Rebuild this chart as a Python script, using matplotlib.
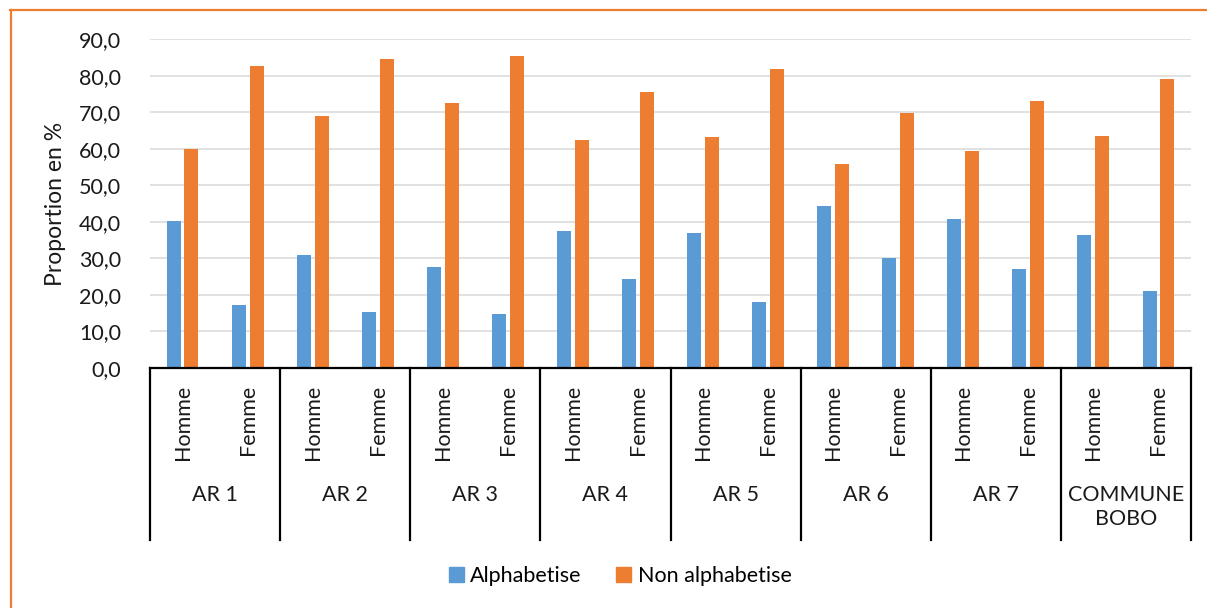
import matplotlib
matplotlib.use("Agg")
import matplotlib.pyplot as plt
from matplotlib.lines import Line2D
from matplotlib.patches import Patch
from matplotlib.transforms import blended_transform_factory
import numpy as np

groups = ["AR 1", "AR 2", "AR 3", "AR 4", "AR 5", "AR 6", "AR 7", "COMMUNE\nBOBO"]
sexes = ["Homme", "Femme"]
alphabetise = [40.2, 17.3, 30.9, 15.3, 27.5, 14.6, 37.5, 24.4,
               36.9, 18.1, 44.3, 30.1, 40.7, 27.0, 36.4, 21.0]
non_alphabetise = [59.8, 82.7, 69.1, 84.7, 72.5, 85.4, 62.5, 75.6,
                   63.1, 81.9, 55.7, 69.9, 59.3, 73.0, 63.6, 79.0]
yticks = [0, 10, 20, 30, 40, 50, 60, 70, 80, 90]

BLUE = "#5B9BD5"
ORANGE = "#ED7D31"
TXT = "#1a1a1a"
FS = 15.5

plt.rcParams['font.family'] = ['Lato', 'DejaVu Sans']

W, H = 1207, 608
fig = plt.figure(figsize=(W / 100, H / 100), dpi=100)
ax = fig.add_axes([150 / W, 1 - 367.7 / H, 1041 / W, 328.4 / H])

x = np.arange(len(alphabetise))
bw = 0.215
ax.bar(x - 0.137, alphabetise, width=bw, color=BLUE, zorder=3)
ax.bar(x + 0.137, non_alphabetise, width=bw, color=ORANGE, zorder=3)

ax.set_xlim(-0.5, len(x) - 0.5)
ax.set_ylim(0, 90)
ax.set_yticks(yticks)
ax.yaxis.set_major_formatter(plt.FuncFormatter(lambda v, p: ("%.1f" % v).replace(".", ",")))
ax.tick_params(axis='y', length=0, pad=21, labelsize=FS, labelcolor=TXT)
ax.set_xticks([])
ax.grid(axis='y', color="#d9d9d9", linewidth=1.1, zorder=0)
for s in ["top", "right", "left"]:
    ax.spines[s].set_visible(False)
ax.spines["bottom"].set_linewidth(1.6)
ax.spines["bottom"].set_color("black")
ax.spines["bottom"].set_zorder(4)
ax.set_ylabel("Proportion en %", fontsize=16.5, color=TXT, labelpad=9)

# multi-level category axis
tr = blended_transform_factory(ax.transData, fig.transFigure)
for i in range(len(x)):
    ax.text(x[i], 1 - 385 / H, sexes[i % 2], transform=tr, rotation=90,
            ha="center", va="top", fontsize=FS, color=TXT)
for g, name in enumerate(groups):
    ax.text(2 * g + 0.5, 1 - 485 / H, name, transform=tr, ha="center", va="top",
            fontsize=FS, color=TXT, linespacing=1.25)
for g in range(len(groups) + 1):
    xb = 2 * g - 0.5
    fig.add_artist(Line2D([xb, xb], [1 - 367.7 / H, 1 - 540 / H], transform=tr,
                          color="black", linewidth=1.6, clip_on=False))

# legend
handles = [Patch(color=BLUE, label="Alphabetise"),
           Patch(color=ORANGE, label="Non alphabetise")]
fig.legend(handles=handles, loc="center", bbox_to_anchor=(620 / W, 1 - 576 / H),
           ncol=2, frameon=False, fontsize=FS, handlelength=0.7, handleheight=0.7,
           handletextpad=0.3, columnspacing=1.6)

# orange frame (left and top edges)
fig.add_artist(Line2D([10.5 / W, 10.5 / W], [0, 1 - 10 / H], transform=fig.transFigure,
                      color=ORANGE, linewidth=1.6))
fig.add_artist(Line2D([10 / W, 1], [1 - 10 / H, 1 - 10 / H], transform=fig.transFigure,
                      color=ORANGE, linewidth=1.6))

fig.savefig("out.png", dpi=100)
